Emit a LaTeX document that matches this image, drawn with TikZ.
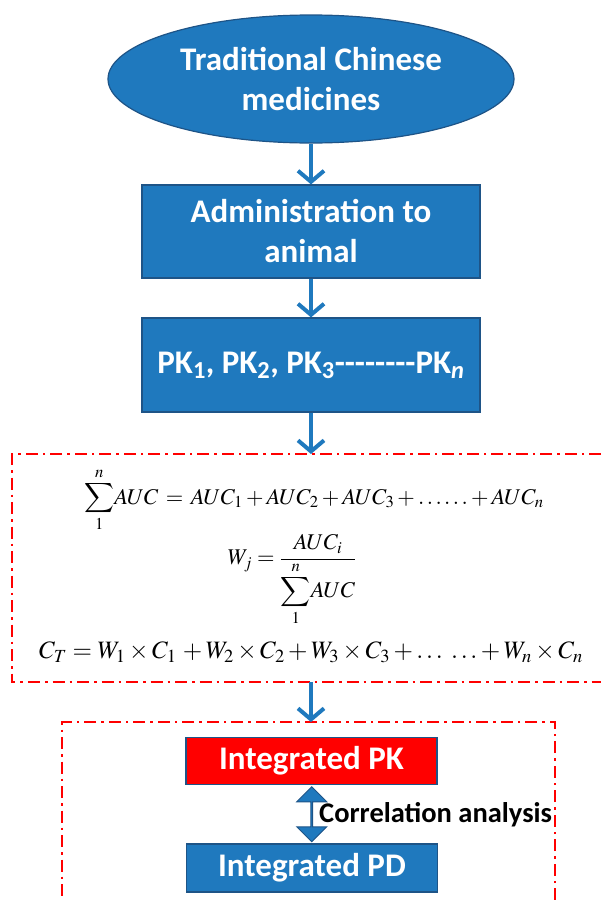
\documentclass[tikz,border=0pt]{standalone}
\usepackage{mathptmx}
\usepackage{exscale}
\usepackage[no-math]{fontspec}
\setmainfont{Carlito}
\usetikzlibrary{arrows.meta,shapes.geometric,shapes.arrows,calc}
\definecolor{bfill}{RGB}{31,121,190}
\definecolor{bline}{RGB}{30,84,135}
\definecolor{rdash}{RGB}{255,0,0}
\tikzset{
  every node/.style={inner sep=0pt},
  bluebox/.style={draw=bline, line width=1.2pt, fill=bfill, text=white,
    font=\bfseries\fontsize{33}{40}\selectfont, align=center},
  arr/.style={draw=bfill, line width=4pt,
    -{Straight Barb[length=11pt,width=26pt,line width=4pt]}},
  redframe/.style={draw=rdash, line width=2.6pt, dash pattern=on 12pt off 5pt on 2.5pt off 5pt},
  formula/.style={font=\fontsize{22.5}{27}\selectfont},
}
\begin{document}
\begin{tikzpicture}[x=1pt,y=-1pt]
\useasboundingbox (0,0) rectangle (601,900);
% nodes
\node[bluebox, ellipse, minimum width=406, minimum height=128] (tcm) at (311,79)
  {Traditional Chinese\\medicines};
\node[bluebox, rectangle, minimum width=338, minimum height=93] (adm) at (311,231.5)
  {Administration to\\animal};
\node[bluebox, rectangle, minimum width=338, minimum height=94] (pk) at (311,365)
  {PK\textsubscript{1}, PK\textsubscript{2}, PK\textsubscript{3}-{}-{}-{}-{}-{}-{}-{}-PK\textsubscript{\itshape n}};
% dashed frames
\coordinate (f1tl) at (12,454);
\coordinate (f1tr) at (601,454);
\coordinate (f1bl) at (12,682);
\coordinate (f1br) at (601,682);
\coordinate (f1in) at (311,454);
\coordinate (f1out) at (311,682);
\draw[redframe] (f1tr) -- (f1tl) -- (f1bl) -- (f1br);
\coordinate (f2tl) at (62,722);
\coordinate (f2tr) at (555,722);
\coordinate (f2bl) at (62,900);
\coordinate (f2br) at (555,900);
\coordinate (f2in) at (311,722);
\draw[redframe] (f2br) -- (f2tr) -- (f2tl) -- (f2bl);
% formulas
\node[formula] (eq1) at (314,500)
  {$\displaystyle\sum\limits_{1}^{n}\! AUC \,=\, AUC_{1} + AUC_{2} + AUC_{3} + \ldots\ldots + AUC_{n}$};
\node[formula] (eq2) at (292,580)
  {$\displaystyle W_{j} = \frac{AUC_{i}}{\displaystyle\sum\limits_{1}^{n}\! AUC}$};
\node[formula, font=\fontsize{25}{30}\selectfont] (eq3) at (311,652)
  {$C_{T} = W_{1}\times C_{1} \,+ W_{2}\times C_{2} + W_{3}\times C_{3} + \ldots\;\ldots + W_{n}\times C_{n}$};
% bottom boxes
\node[bluebox, rectangle, fill=red, minimum width=251, minimum height=47,
  font=\bfseries\fontsize{33}{38}\selectfont] (ipk) at (311.5,761) {Integrated PK};
\node[bluebox, rectangle, minimum width=251, minimum height=48,
  font=\bfseries\fontsize{33}{38}\selectfont] (ipd) at (312,868) {Integrated PD};
\node[double arrow, rotate=90, draw=bline, line width=1pt, fill=bfill,
  minimum height=55, minimum width=30, double arrow head extend=7.5]
  (corr) at ($(ipk.south)!0.5!(ipd.north)$) {};
\node[anchor=west, font=\bfseries\fontsize{28.5}{33}\selectfont] (corrlab) at (319,815)
  {Correlation analysis};
% arrows
\draw[arr] (tcm.south) -- (adm.north);
\draw[arr] (adm.south) -- (pk.north);
\draw[arr] (pk.south) -- (f1in);
\draw[arr] (f1out) -- (f2in);
\end{tikzpicture}
\end{document}
